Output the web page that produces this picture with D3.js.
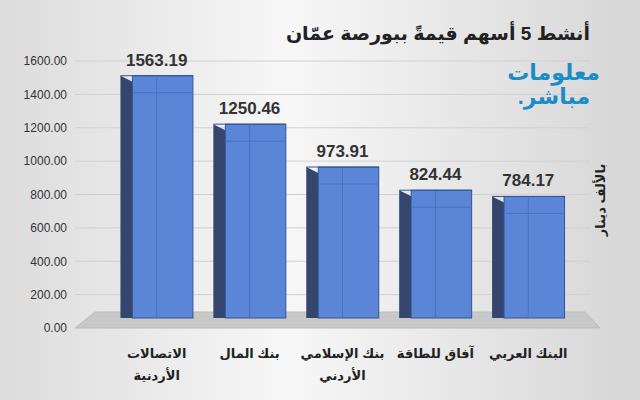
<!DOCTYPE html>
<html>
<head>
<meta charset="utf-8" />
<script src="https://cdn.jsdelivr.net/npm/d3@7"></script>
<style>body{margin:0}svg{font-family:"Liberation Sans","DejaVu Sans",Arial,sans-serif}</style>
</head>
<body>
<script>
const categories = ["الاتصالات|الأردنية", "بنك المال", "بنك الإسلامي|الأردني", "آفاق للطاقة", "البنك العربي"];
const values = [1563.19, 1250.46, 973.91, 824.44, 784.17];
const ticks = [0, 200, 400, 600, 800, 1000, 1200, 1400, 1600];

const w = 640, h = 400;
const svg = d3.select("body").append("svg").attr("width", w).attr("height", h);

const grad = svg.append("defs").append("linearGradient").attr("id", "bg");
grad.append("stop").attr("offset", "0").attr("stop-color", "#dcdcdc");
grad.append("stop").attr("offset", "0.45").attr("stop-color", "#f7f7f7");
grad.append("stop").attr("offset", "1").attr("stop-color", "#d6d6d6");
svg.append("rect").attr("width", w).attr("height", h).attr("fill", "url(#bg)");

const y = d3.scaleLinear().domain([0, 1600]).range([328, 61]);
const yBar = d3.scaleLinear().domain([0, 1600]).range([318, 70]);
const x = d3.scaleBand().domain(categories).range([100, 585]).padding(0.22);

// floor
svg.append("polygon").attr("points", "75,328 600,328 585,312 95,312").attr("fill", "#c8c8c8").attr("stroke", "#bbb");

// grid
svg.append("g").selectAll("line").data(ticks.slice(1)).join("line")
  .attr("x1", 75).attr("x2", 590).attr("y1", d => y(d)).attr("y2", d => y(d))
  .attr("stroke", "#d0d0d0");

const yAxis = svg.append("g").attr("transform", "translate(70,0)")
  .call(d3.axisLeft(y).tickValues(ticks).tickFormat(d3.format(".2f")).tickSize(0));
yAxis.select(".domain").remove();
yAxis.selectAll("text").attr("font-size", 12).attr("fill", "#333").attr("font-family", "Arial, sans-serif");

// bars
const g = svg.append("g");
const side = 12;
categories.forEach((c, i) => {
  const x0 = x(c), bw = x.bandwidth(), top = yBar(values[i]);
  g.append("polygon")
    .attr("points", `${x0},${top} ${x0 + side},${top + 6} ${x0 + side},318 ${x0},318`)
    .attr("fill", "#34466e");
  g.append("rect").attr("x", x0 + side).attr("y", top).attr("width", bw - side).attr("height", 318 - top)
    .attr("fill", "#5b86d8").attr("stroke", "#2f5597");
  g.append("line").attr("x1", x0).attr("x2", x0 + bw).attr("y1", top).attr("y2", top).attr("stroke", "#2f5597");
  g.append("line").attr("x1", x0 + bw * 0.5).attr("x2", x0 + bw * 0.5).attr("y1", top + 1).attr("y2", 318)
    .attr("stroke", "#4a72c0");
  g.append("line").attr("x1", x0 + side).attr("x2", x0 + bw).attr("y1", top + 17).attr("y2", top + 17)
    .attr("stroke", "#4a72c0");
  svg.append("text").attr("x", x0 + bw / 2).attr("y", top - 10).attr("text-anchor", "middle")
    .attr("font-size", 17).attr("font-weight", "bold").attr("fill", "#333")
    .attr("font-family", "Arial, sans-serif").text(values[i].toFixed(2));
  c.split("|").forEach((line, j) => {
    svg.append("text").attr("x", x0 + bw / 2).attr("y", 358 + j * 22).attr("text-anchor", "middle")
      .attr("font-size", 13).attr("font-weight", "bold").attr("fill", "#222").text(line);
  });
});

// title
svg.append("text").attr("x", 590).attr("y", 40).attr("text-anchor", "start").attr("direction", "rtl")
  .attr("font-size", 19).attr("font-weight", "bold").attr("fill", "#222").text("أنشط 5 أسهم قيمةً ببورصة عمّان");

// logo
svg.append("text").attr("x", 600).attr("y", 80).attr("text-anchor", "start").attr("direction", "rtl")
  .attr("font-size", 22).attr("font-weight", "bold").attr("fill", "#1b8cc6").text("معلومات");
svg.append("text").attr("x", 590).attr("y", 104).attr("text-anchor", "start").attr("direction", "rtl")
  .attr("font-size", 22).attr("font-weight", "bold").attr("fill", "#1b8cc6").text("مباشر.");

// unit
svg.append("text").attr("transform", "translate(605,200) rotate(-90)").attr("text-anchor", "middle")
  .attr("font-size", 13).attr("font-weight", "bold").attr("fill", "#222").text("بالألف دينار");
</script>
</body>
</html>
